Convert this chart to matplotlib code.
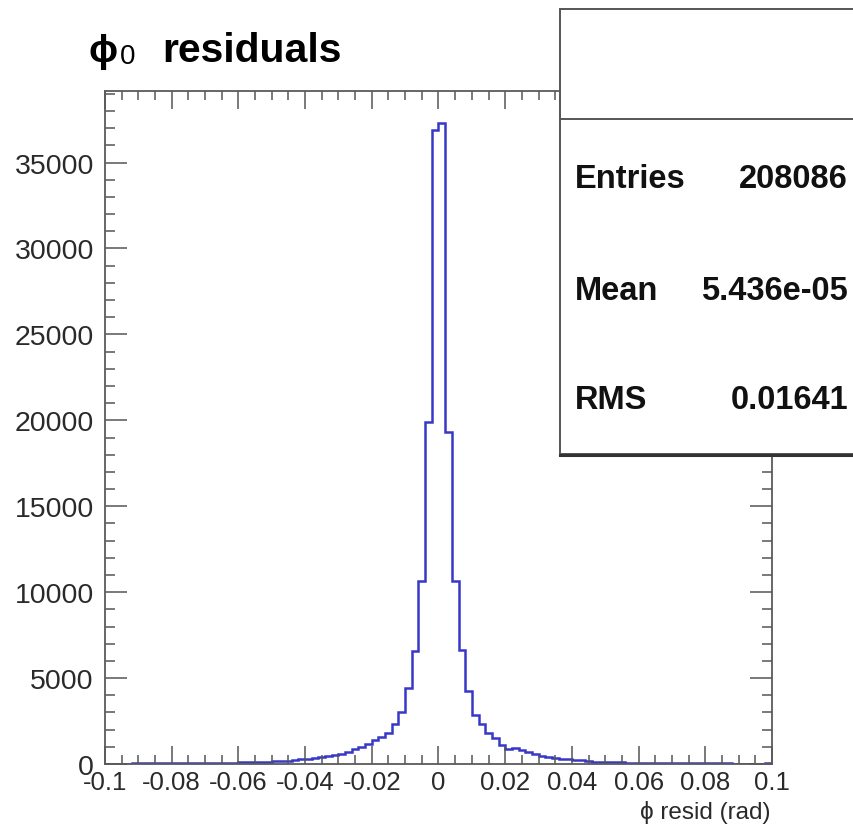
import numpy as np
import matplotlib
matplotlib.use("Agg")
import matplotlib.pyplot as plt
from matplotlib.patches import Rectangle
from matplotlib.lines import Line2D
from matplotlib.ticker import MultipleLocator, FuncFormatter

plt.rcParams['font.family'] = ['Liberation Sans', 'DejaVu Sans']
plt.rcParams['axes.unicode_minus'] = False

# Histogram: 100 bins of width 0.002 over [-0.1, 0.1]
x_min, x_max, n_bins = -0.1, 0.1, 100

# Counts for the negative half, from the centre outwards ([-0.002,0], [-0.004,-0.002], ...)
counts_neg_from_centre = [
    36900, 19900, 10650, 6600, 4400, 3050, 2330, 1800, 1600, 1400,
    1150, 1000, 850, 720, 600, 520, 460, 400, 350, 310,
    270, 230, 200, 180, 160, 140, 130, 120, 100, 90,
    80, 75, 70, 60, 60, 55, 50, 50, 45, 45,
    40, 40, 35, 35, 30, 30, 25, 10, 25, 20,
]
# Counts for the positive half, from the centre outwards ([0,0.002], [0.002,0.004], ...)
counts_pos_from_centre = [
    37300, 19300, 10650, 6650, 4250, 2850, 2350, 1800, 1500, 1100,
    850, 950, 820, 690, 560, 440, 380, 330, 310, 290,
    240, 210, 170, 140, 120, 110, 100, 140, 80, 70,
    65, 60, 55, 50, 50, 45, 45, 40, 40, 35,
    35, 30, 30, 30, 25, 25, 20, 20, 15, 30,
]

stat_labels = ["Entries", "Mean", "RMS"]
stat_values = ["208086", "5.436e-05", "0.01641"]

counts = np.array(counts_neg_from_centre[::-1] + counts_pos_from_centre, dtype=float)
edges = np.linspace(x_min, x_max, n_bins + 1)

W, H = 854, 828
fig = plt.figure(figsize=(W / 100, H / 100), dpi=100)

def fx(px):
    return px / W

def fy(py):
    return 1 - py / H

ax_l, ax_r, ax_t, ax_b = 105, 772, 92, 765
ax = fig.add_axes([fx(ax_l), fy(ax_b), fx(ax_r - ax_l), (ax_b - ax_t) / H])

ax.stairs(counts, edges, color='#3838c8', linewidth=1.8, baseline=None)

ax.set_xlim(x_min, x_max)
ax.set_ylim(0, counts.max() * 1.05)

ax.xaxis.set_major_locator(MultipleLocator(0.02))
ax.xaxis.set_minor_locator(MultipleLocator(0.005))
ax.yaxis.set_major_locator(MultipleLocator(5000))
ax.yaxis.set_minor_locator(MultipleLocator(1000))

def xfmt(v, pos):
    if abs(v) < 1e-9:
        return "0"
    s = "%.2f" % v
    return s.rstrip('0').rstrip('.')

ax.xaxis.set_major_formatter(FuncFormatter(xfmt))
ax.yaxis.set_major_formatter(FuncFormatter(lambda v, p: "%d" % v))

tick_col = '#555555'
ax.tick_params(axis='both', which='both', direction='in', top=True, right=True,
               color=tick_col, width=1.1, labelcolor='#2a2a2a')
ax.tick_params(axis='x', which='major', length=13, pad=4, labelsize=18.5)
ax.tick_params(axis='x', which='minor', length=6.5)
ax.tick_params(axis='y', which='major', length=15.5, pad=8, labelsize=20.5)
ax.tick_params(axis='y', which='minor', length=7.5)
for s in ax.spines.values():
    s.set_color('#5a5a5a')
    s.set_linewidth(1.3)

# Axis title at the lower right
fig.text(fx(771), fy(819), "\u03d5 resid (rad)", ha='right', va='baseline',
         fontsize=17.5, color='#2a2a2a')

# Histogram title
fig.text(fx(89), fy(62), "\u03d5", ha='left', va='baseline', fontsize=28,
         fontweight='bold', color='black')
fig.text(fx(120), fy(64), "0", ha='left', va='baseline', fontsize=20, color='black')
fig.text(fx(162), fy(62), "residuals", ha='left', va='baseline', fontsize=29.5,
         fontweight='bold', color='black')

# Statistics box
box_l, box_t, box_b, box_sep = 560, 10, 455, 120
fig.add_artist(Rectangle((fx(box_l), fy(box_b)), fx(W + 20 - box_l), (box_b - box_t) / H,
                         transform=fig.transFigure, facecolor='white',
                         edgecolor='#555555', linewidth=1.4, zorder=5))
fig.add_artist(Line2D([fx(box_l), fx(W + 5)], [fy(box_b + 1), fy(box_b + 1)],
                      transform=fig.transFigure, color='#333333', linewidth=2.2, zorder=6))
fig.add_artist(Line2D([fx(box_l), fx(W + 5)], [fy(box_sep), fy(box_sep)],
                      transform=fig.transFigure, color='#555555', linewidth=1.4, zorder=6))

stat_baselines = [188, 300, 409]
for lab, val, yb in zip(stat_labels, stat_values, stat_baselines):
    fig.text(fx(575), fy(yb), lab, ha='left', va='baseline', fontsize=23.5,
             fontweight='bold', color='#111111', zorder=7)
    fig.text(fx(848), fy(yb), val, ha='right', va='baseline', fontsize=23.5,
             fontweight='bold', color='#111111', zorder=7)

fig.savefig("out.png", dpi=100, facecolor='white')
